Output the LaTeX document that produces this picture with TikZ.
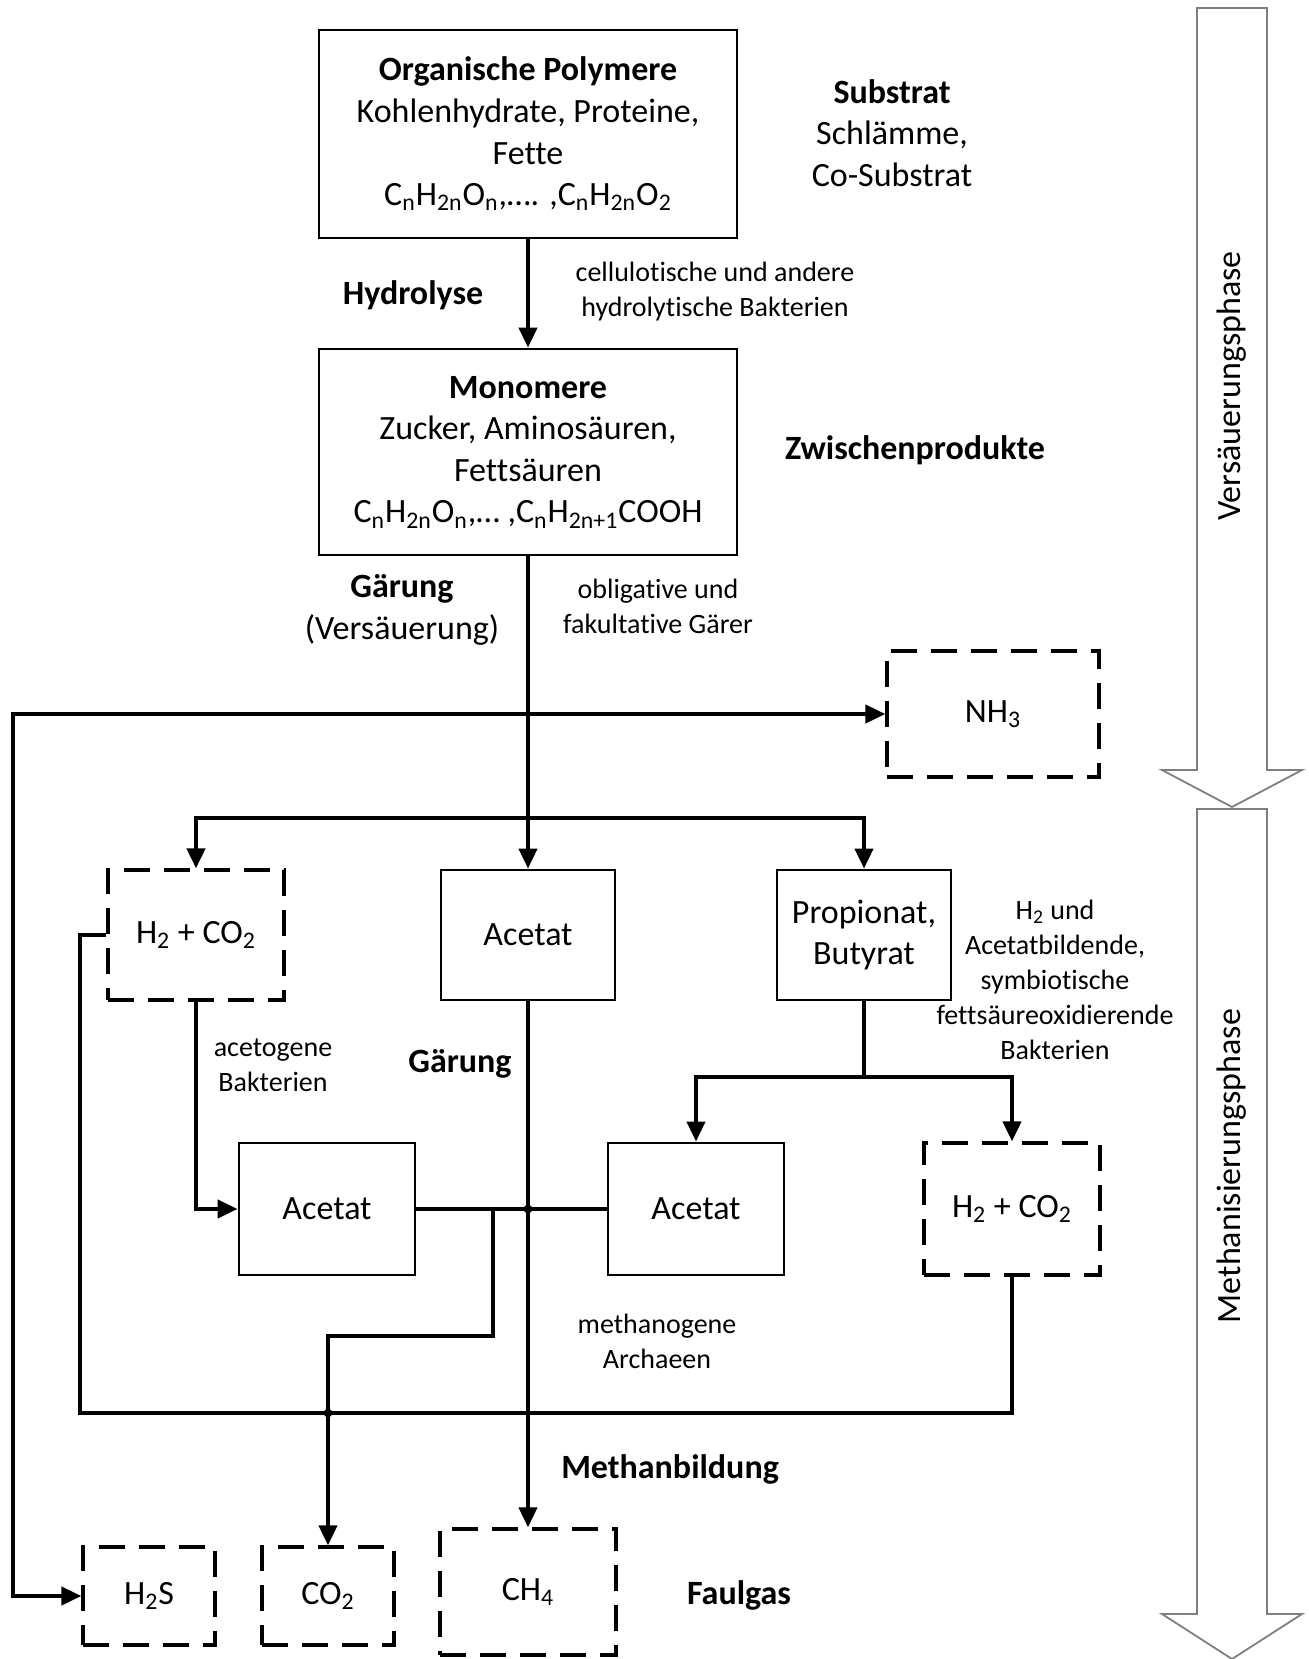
\documentclass[tikz,border=0pt]{standalone}
\usepackage{fontspec}
\setmainfont[Ligatures=NoCommon]{Carlito}
\usepackage{tikz}
\usetikzlibrary{arrows.meta}
\usetikzlibrary{positioning}

\begin{document}
\begin{tikzpicture}[x=0.5pt, y=-0.5pt]
    \definecolor{phase_gray}{HTML}{7F7F7F}
    \tikzstyle{every node}=[font=\fontsize{17}{20.8}\selectfont, align=center]
    \tikzstyle{stage}=[draw, line width=1.4pt, inner sep=2pt]
    \tikzstyle{gas}=[stage, line width=1.6pt, dash pattern=on 13pt off 7pt]
    \tikzstyle{wire}=[line width=2pt]
    \tikzstyle{flow}=[wire, -{Triangle[length=10pt, width=9pt]}]
    \tikzstyle{small}=[font=\fontsize{14}{17.5}\selectfont]
    \tikzstyle{heading}=[font=\fontsize{17}{20.8}\selectfont\bfseries]
    \tikzstyle{phase}=[draw=phase_gray, line width=0.9pt, fill=white]
    \useasboundingbox (0,0) rectangle (1308,1659);

    % phase arrows on the right
    \draw[phase] (1197,8) -- (1267,8) -- (1267,770) -- (1302,770) -- (1232,807) -- (1162,770) -- (1197,770) -- cycle;
    \draw[phase] (1197,809) -- (1267,809) -- (1267,1614) -- (1302,1614) -- (1232,1659) -- (1162,1614) -- (1197,1614) -- cycle;
    \node[rotate=90] (acid_phase) at (1232,386) {Versäuerungsphase};
    \node[rotate=90] (methane_phase) at (1232,1166) {Methanisierungsphase};

    % stages
    \node[stage, minimum width=209pt, minimum height=104pt] (polymer) at (528,134) {\textbf{Organische Polymere}\\Kohlenhydrate, Proteine,\\Fette\\C\textsubscript{n}H\textsubscript{2n}O\textsubscript{n},…. ,C\textsubscript{n}H\textsubscript{2n}O\textsubscript{2}};
    \node[stage, minimum width=209pt, minimum height=103pt] (mono) at (528,452) {\textbf{Monomere}\\Zucker, Aminosäuren,\\Fettsäuren\\C\textsubscript{n}H\textsubscript{2n}O\textsubscript{n},… ,C\textsubscript{n}H\textsubscript{2n+1}COOH};
    \node[gas, minimum width=106pt, minimum height=63pt] (nh3) at (993,714) {NH\textsubscript{3}};
    \node[gas, minimum width=88pt, minimum height=65pt] (hco_top) at (196,935) {H\textsubscript{2} + CO\textsubscript{2}};
    \node[stage, minimum width=87pt, minimum height=65pt] (acet_mid) at (528,935) {Acetat};
    \node[stage, minimum width=87pt, minimum height=65pt] (prop) at (864,935) {Propionat,\\Butyrat};
    \node[stage, minimum width=88pt, minimum height=66pt] (acet_left) at (327,1209) {Acetat};
    \node[stage, minimum width=88pt, minimum height=66pt] (acet_right) at (696,1209) {Acetat};
    \node[gas, minimum width=88pt, minimum height=66pt] (hco_low) at (1012,1209) {H\textsubscript{2} + CO\textsubscript{2}};
    \node[gas, minimum width=66pt, minimum height=49pt] (h2s) at (149,1596) {H\textsubscript{2}S};
    \node[gas, minimum width=66pt, minimum height=49pt] (co2) at (328,1596) {CO\textsubscript{2}};
    \node[gas, minimum width=88pt, minimum height=63pt] (ch4) at (528,1592) {CH\textsubscript{4}};

    % labels
    \node (substrate) at (892,133) {\textbf{Substrat}\\Schlämme,\\Co-Substrat};
    \node[heading] (hydrolysis) at (413,295) {Hydrolyse};
    \node[small] (hydro_bact) at (715,292) {cellulotische und andere\\hydrolytische Bakterien};
    \node[heading] (intermediate) at (915,450) {Zwischenprodukte};
    \node (ferment_top) at (402,610) {\textbf{Gärung}\\(Versäuerung)};
    \node[small] (fermenters) at (658,606) {obligative und\\fakultative Gärer};
    \node[small] (oxidizers) at (1055,980) {H\textsubscript{2} und\\Acetatbildende,\\symbiotische\\fettsäureoxidierende\\Bakterien};
    \node[small] (acetogens) at (273,1065) {acetogene\\Bakterien};
    \node[heading] (ferment_low) at (460,1064) {Gärung};
    \node[small] (archaea) at (657,1341) {methanogene\\Archaeen};
    \node[heading] (methanation) at (670,1469) {Methanbildung};
    \node[heading] (biogas) at (739,1595) {Faulgas};

    % helper points
    \coordinate (left_rail) at (13,714);
    \coordinate (split_top) at (528,818);
    \coordinate (split_low) at (864,1077);
    \coordinate (co2_branch) at (493,1209);
    \coordinate (co2_bend) at (493,1336);
    \coordinate (gas_rail) at (80,1413);

    % connectors
    \draw[flow] (polymer.south) -- (mono.south |- mono.north);
    \draw[flow] (mono.south) -- (acet_mid.north);
    \draw[wire, {Triangle[length=10pt, width=9pt]}-{Triangle[length=10pt, width=9pt]}] (nh3.west) -- (left_rail) |- (h2s.west);
    \draw[flow] (split_top) -| (hco_top.north);
    \draw[flow] (split_top) -| (prop.north);
    \draw[flow] (hco_top.south) |- (acet_left.west);
    \draw[wire] (prop.south) -- (split_low);
    \draw[flow] (split_low) -| (acet_right.north);
    \draw[flow] (split_low) -| (hco_low.north);
    \draw[wire] (acet_left.east) -- (acet_right.west);
    \draw[flow] (acet_mid.south) -- (ch4.north);
    \draw[flow] (co2_branch) -- (co2_bend) -| (co2.north);
    \draw[wire] (hco_low.south) |- (gas_rail) |- (hco_top.west);
    \fill (acet_mid.south |- acet_left.east) circle (2.2pt);
    \fill (co2.north |- gas_rail) circle (2.2pt);
\end{tikzpicture}
\end{document}
